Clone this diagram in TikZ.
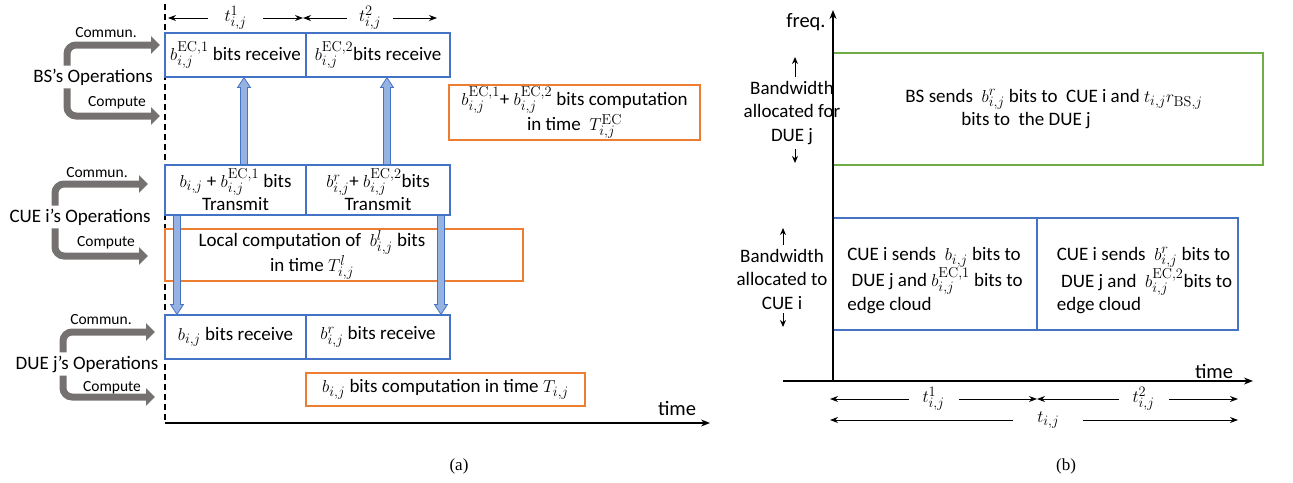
\documentclass[tikz,border=0pt]{standalone}
\usepackage[no-math]{fontspec}
\setmainfont{Carlito}
\newfontfamily\capfont{Liberation Serif}
\usetikzlibrary{arrows.meta,calc}
\definecolor{boxblue}{RGB}{68,114,196}
\definecolor{boxorange}{RGB}{237,125,49}
\definecolor{boxgreen}{RGB}{112,173,71}
\definecolor{arrowfill}{RGB}{150,178,224}
\definecolor{opgray}{RGB}{118,113,113}
\newcommand\myfatup[2]{%
  \draw[fill=arrowfill, draw=boxblue, line width=0.8pt]
    ($(#1)+(-3.5,0)$) -- ($(#2)+(-3.5,10)$) -- ($(#2)+(-6.5,10)$) -- (#2)
    -- ($(#2)+(6.5,10)$) -- ($(#2)+(3.5,10)$) -- ($(#1)+(3.5,0)$) -- cycle;}
\newcommand\myfatdown[2]{%
  \draw[fill=arrowfill, draw=boxblue, line width=0.8pt]
    ($(#1)+(-3.5,0)$) -- ($(#2)+(-3.5,-10)$) -- ($(#2)+(-6.5,-10)$) -- (#2)
    -- ($(#2)+(6.5,-10)$) -- ($(#2)+(3.5,-10)$) -- ($(#1)+(3.5,0)$) -- cycle;}
\tikzset{
  txt/.style={font=\fontsize{19}{23.5}\selectfont, inner sep=0pt},
  axtxt/.style={font=\fontsize{20.5}{24}\selectfont, inner sep=0pt},
  smalltxt/.style={font=\fontsize{15.5}{18}\selectfont, inner sep=0pt},
  optxt/.style={font=\fontsize{19}{23.5}\selectfont, inner xsep=0pt, inner ysep=3pt},
  bbox/.style={draw=boxblue, line width=1.1pt, inner sep=0pt, align=center, font=\fontsize{19}{23.5}\selectfont},
  obox/.style={draw=boxorange, line width=1.1pt, inner sep=0pt, align=center, font=\fontsize{19}{25}\selectfont},
  gbox/.style={draw=boxgreen, line width=1.1pt, inner sep=0pt, align=left, font=\fontsize{19}{23.5}\selectfont},
  oparrow/.style={draw=opgray, line width=7pt, rounded corners=9pt, -{Triangle[length=9pt,width=17pt]}},
  axisline/.style={line width=1.3pt, -{Stealth[length=9pt,width=7pt]}},
  dimline/.style={line width=1pt, {Stealth[length=8pt,width=6pt]}-{Stealth[length=8pt,width=6pt]}},
  dimlbl/.style={fill=white, inner xsep=14pt, inner ysep=0pt, font=\fontsize{19}{23}\selectfont},
  smallarr/.style={line width=1pt, -{Stealth[length=7pt,width=6pt]}},
}
\begin{document}
\begin{tikzpicture}[x=1pt,y=-1pt]
\useasboundingbox (0,0) rectangle (1293,482);
% ---------------- panel (a) ----------------
\coordinate (dtop) at (165,4);
\coordinate (origin) at (165,423);
\coordinate (timeend) at (710,423);
\draw[line width=1.3pt, dash pattern=on 6pt off 4pt] (dtop) -- (origin);
\draw[axisline] (origin) -- (timeend);
\node[axtxt] (timea) at (677,408) {time};

% top duration arrows
\coordinate (t0) at (168,18);
\coordinate (t1) at (303,18);
\coordinate (t2) at (437,18);
\draw[dimline] (t0) -- node[dimlbl, inner xsep=17pt] (t1lbl) {$t^1_{i,j}$} (t1);
\draw[dimline] (t1) -- node[dimlbl, inner xsep=12pt] (t2lbl) {$t^2_{i,j}$} (t2);

% boxes
\node[bbox, minimum width=141pt, minimum height=44pt] (bs1) at (235.5,55) {$b^{\mathrm{EC},1}_{i,j}$ bits receive};
\node[bbox, minimum width=144pt, minimum height=44pt] (bs2) at (378,55) {$b^{\mathrm{EC},2}_{i,j}$bits receive};
\node[obox, minimum width=251pt, minimum height=55pt] (ec) at (574.5,112.5) {$b^{\mathrm{EC},1}_{i,j}$+ $b^{\mathrm{EC},2}_{i,j}$ bits computation\\in time \ $T^{\mathrm{EC}}_{i,j}$};
\node[bbox, minimum width=141pt, minimum height=50pt] (cue1) at (235.5,190) {$b_{i,j}$ + $b^{\mathrm{EC},1}_{i,j}$ bits\\Transmit};
\node[bbox, minimum width=144pt, minimum height=50pt] (cue2) at (378,190) {$b^r_{i,j}$+ $b^{\mathrm{EC},2}_{i,j}$bits\\Transmit};
\node[obox, font=\fontsize{19}{23.5}\selectfont, minimum width=358pt, minimum height=52pt] (local) at (344,255) {Local computation of \ $b^l_{i,j}$ bits\hspace*{64pt}\\in time $T^l_{i,j}$\hspace*{64pt}};
\node[bbox, minimum width=141pt, minimum height=44pt] (due1) at (235.5,337) {$b_{i,j}$ bits receive};
\node[bbox, minimum width=144pt, minimum height=44pt] (due2) at (378,337) {$b^r_{i,j}$ bits receive};
\node[obox, minimum width=279pt, minimum height=33pt] (dcomp) at (445.5,389.5) {$b_{i,j}$ bits computation in time $T_{i,j}$};

% blue transfer arrows
\coordinate (u1x) at (244,0);
\coordinate (u2x) at (387,0);
\coordinate (d1x) at (177,0);
\coordinate (d2x) at (441,0);
\coordinate (u1a) at (cue1.north -| u1x);
\coordinate (u1b) at (bs1.south -| u1x);
\coordinate (u2a) at (cue2.north -| u2x);
\coordinate (u2b) at (bs2.south -| u2x);
\coordinate (d1a) at (cue1.south -| d1x);
\coordinate (d1b) at (due1.north -| d1x);
\coordinate (d2a) at (cue2.south -| d2x);
\coordinate (d2b) at (due2.north -| d2x);
\myfatup{u1a}{u1b}
\myfatup{u2a}{u2b}
\myfatdown{d1a}{d1b}
\myfatdown{d2a}{d2b}

% operations labels with gray arrows
\node[optxt] (bsop) at (93,77) {BS’s Operations};
\coordinate (bsstem) at (67,0);
\coordinate (bsc) at (160,45);
\coordinate (bsp) at (160,116);
\draw[oparrow] (bsop.north -| bsstem) |- (bsc);
\draw[oparrow] (bsop.south -| bsstem) |- (bsp);
\node[smalltxt] (bscl) at (106,33) {Commun.};
\node[smalltxt] (bspl) at (117,103) {Compute};

\node[optxt] (cueop) at (80,217) {CUE i’s Operations};
\coordinate (cuestem) at (55,0);
\coordinate (cuec) at (148,184);
\coordinate (cuep) at (148,256);
\draw[oparrow] (cueop.north -| cuestem) |- (cuec);
\draw[oparrow] (cueop.south -| cuestem) |- (cuep);
\node[smalltxt] (cuecl) at (97,173) {Commun.};
\node[smalltxt] (cuepl) at (106,243) {Compute};

\node[optxt] (dueop) at (87,364) {DUE j’s Operations};
\coordinate (duestem) at (63,0);
\coordinate (duec) at (155,332);
\coordinate (duep) at (155,397);
\draw[oparrow] (dueop.north -| duestem) |- (duec);
\draw[oparrow] (dueop.south -| duestem) |- (duep);
\node[smalltxt] (duecl) at (101,320) {Commun.};
\node[smalltxt] (duepl) at (112,388) {Compute};

\node[font=\capfont\fontsize{17}{20}\selectfont] (capa) at (459,466) {(a)};

% ---------------- panel (b) ----------------
\coordinate (rorig) at (833,381);
\coordinate (ftop) at (833,10);
\coordinate (tleft) at (783,381);
\coordinate (tright) at (1253,381);
\node[gbox, minimum width=430pt, minimum height=112pt] (bsbw) at (1048,109)
  {\hspace*{12pt}BS sends \ $b^r_{i,j}$ bits to \ CUE i and $t_{i,j}r_{\mathrm{BS},j}$\\\hspace*{68pt}bits to \ the DUE j};
\node[bbox, align=left, minimum width=204pt, minimum height=112pt] (cb1) at (935,274)
  {\rule{0pt}{26pt}CUE i sends \ $b_{i,j}$ bits to\\\ DUE j and $b^{\mathrm{EC},1}_{i,j}$ bits to\\edge cloud};
\node[bbox, align=left, minimum width=201pt, minimum height=112pt] (cb2) at (1137.5,274)
  {\rule{0pt}{26pt}\hspace*{14pt}CUE i sends \ $b^r_{i,j}$ bits to\\\hspace*{14pt}\ DUE j and \ $b^{\mathrm{EC},2}_{i,j}$bits to\\\hspace*{14pt}edge cloud};
\draw[axisline] (rorig) -- (ftop);
\draw[axisline] (tleft) -- (tright);
\node[axtxt] (freq) at (806,22) {freq.};
\node[axtxt] (timeb) at (1214,371) {time};

\node[txt, align=center, inner ysep=4pt] (bwd) at (792,113) {Bandwidth\\allocated for\\DUE j};
\coordinate (bwdx) at (795,0);
\coordinate (bwdtop) at (795,57);
\coordinate (bwdbot) at (795,163);
\draw[smallarr] (bwd.north -| bwdx) -- (bwdtop);
\draw[smallarr] (bwd.south -| bwdx) -- (bwdbot);

\node[txt, align=center, inner ysep=4pt] (bwc) at (782,279) {Bandwidth\\allocated to\\CUE i};
\coordinate (bwcx) at (783,0);
\coordinate (bwctop) at (783,228);
\coordinate (bwcbot) at (783,327);
\draw[smallarr] (bwc.north -| bwcx) -- (bwctop);
\draw[smallarr] (bwc.south -| bwcx) -- (bwcbot);

\coordinate (b0) at (830,399);
\coordinate (b1) at (1037,399);
\coordinate (b2) at (1238,399);
\coordinate (c0) at (830,420);
\coordinate (c2) at (1238,420);
\draw[dimline] (b0) -- node[dimlbl] (bt1) {$t^1_{i,j}$} (b1);
\draw[dimline] (b1) -- node[dimlbl, pos=0.53] (bt2) {$t^2_{i,j}$} (b2);
\draw[dimline] (c0) -- node[dimlbl, pos=0.535, inner xsep=24pt] (bt) {$t_{i,j}$} (c2);

\node[font=\capfont\fontsize{17}{20}\selectfont] (capb) at (1066,466) {(b)};
\end{tikzpicture}
\end{document}
